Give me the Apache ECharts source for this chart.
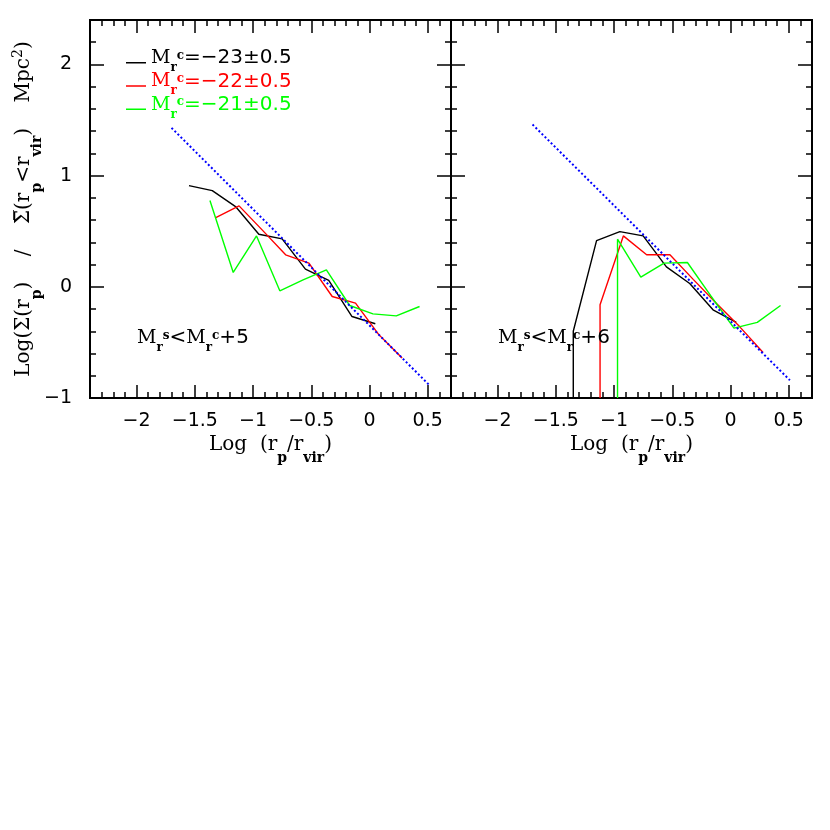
<!DOCTYPE html>
<html>
<head>
<meta charset="utf-8">
<script src="https://cdn.jsdelivr.net/npm/echarts@6/dist/echarts.min.js"></script>
<style>
  html, body { margin: 0; padding: 0; background: #fff; }
  #chart { width: 830px; height: 830px; }
</style>
</head>
<body>
<div id="chart"></div>
<script>
// axis ranges and labelled ticks
const xMin = -2.4, xMax = 0.7;
const yMin = -1, yMax = 2.4;
const xMajor = [-2, -1.5, -1, -0.5, 0, 0.5];
const yMajor = [-1, 0, 1, 2];

// magnitude bins (legend)
const binLabels = ['=−23±0.5', '=−22±0.5', '=−21±0.5'];
const binColors = ['#000000', '#ff0000', '#00ff00'];

// left panel: Mr_s < Mr_c + 5
const xBlackL = [-1.55, -1.35, -1.15, -0.95, -0.75, -0.55, -0.35, -0.15, 0.05];
const yBlackL = [0.91, 0.865, 0.722, 0.473, 0.431, 0.159, 0.057, -0.267, -0.332];
const xRedL = [-1.32, -1.12, -0.92, -0.72, -0.52, -0.32, -0.12, 0.08, 0.28];
const yRedL = [0.623, 0.728, 0.51, 0.288, 0.213, -0.087, -0.147, -0.43, -0.641];
const xGreenL = [-1.37, -1.17, -0.97, -0.77, -0.57, -0.37, -0.17, 0.03, 0.23, 0.43];
const yGreenL = [0.776, 0.129, 0.458, -0.036, 0.063, 0.153, -0.168, -0.243, -0.261, -0.177];

// right panel: Mr_s < Mr_c + 6 (first point of each curve drops off the bottom)
const xBlackR = [-1.35, -1.35, -1.15, -0.95, -0.75, -0.55, -0.35, -0.15, 0.05];
const yBlackR = [-1, -0.40, 0.416, 0.497, 0.458, 0.18, 0.03, -0.207, -0.32];
const xRedR = [-1.12, -1.12, -0.92, -0.72, -0.52, -0.32, -0.12, 0.08, 0.28];
const yRedR = [-1, -0.162, 0.458, 0.288, 0.288, 0.067, -0.15, -0.36, -0.59];
const xGreenR = [-0.97, -0.97, -0.77, -0.57, -0.37, -0.17, 0.03, 0.23, 0.43];
const yGreenR = [-1, 0.428, 0.087, 0.213, 0.219, -0.08, -0.371, -0.32, -0.168];

// dotted reference line
const xModel = [-1.70, 0.51];
const yModelL = [1.43, -0.88];
const yModelR = [1.46, -0.84];

const SERIF = 'DejaVu Serif';
const SANS = 'DejaVu Sans';

const chart = echarts.init(document.getElementById('chart'));

const zip = (xs, ys) => xs.map((x, i) => [x, ys[i]]);
const minus = v => String(v).replace('-', '−');

// M_r^c style labels: sub sits at the bottom of a tall line, sup is nudged up
function richFor(color) {
  const H = 32;
  return {
    m: { fontFamily: SERIF, fontSize: 19, fontWeight: 'normal', lineHeight: H, verticalAlign: 'middle', color },
    s: { fontFamily: SERIF, fontSize: 12, fontWeight: 'bold', lineHeight: H, verticalAlign: 'bottom', color },
    c: { fontFamily: SERIF, fontSize: 12, fontWeight: 'bold', lineHeight: H, verticalAlign: 'middle', padding: [0, 0, 5, 0], color },
    t: { fontFamily: SANS, fontSize: 20, fontWeight: 'normal', lineHeight: H, verticalAlign: 'middle', color }
  };
}

const frame = { onZero: false, lineStyle: { color: '#000', width: 2 } };
const tickLabel = { margin: 14, formatter: minus, color: '#000', fontFamily: SANS, fontSize: 19 };
const nameRich = {
  n: { fontFamily: SERIF, fontSize: 20, lineHeight: 40, verticalAlign: 'middle', color: '#000' },
  s: { fontFamily: SERIF, fontSize: 14, fontWeight: 'bold', lineHeight: 40, verticalAlign: 'bottom', color: '#000' },
  c: { fontFamily: SERIF, fontSize: 14, lineHeight: 40, verticalAlign: 'middle', padding: [0, 0, 12, 0], color: '#000' }
};

function xAxes(grid) {
  const base = { type: 'value', gridIndex: grid, min: xMin, max: xMax, splitLine: { show: false }, axisLine: frame };
  return [
    Object.assign({}, base, {
      position: 'bottom',
      axisTick: { inside: true, length: 13, customValues: xMajor, lineStyle: { width: 1.5 } },
      axisLabel: Object.assign({ customValues: xMajor }, tickLabel),
      name: '{n|Log  (r}{s|p}{n|/r}{s|vir}{n|)}',
      nameLocation: 'middle',
      nameGap: 27,
      nameTextStyle: { rich: nameRich }
    }),
    Object.assign({}, base, {
      position: 'bottom', interval: 0.1,
      axisTick: { inside: true, length: 6, lineStyle: { width: 1.5 } },
      axisLabel: { show: false }
    }),
    Object.assign({}, base, {
      position: 'top',
      axisTick: { inside: true, length: 13, customValues: xMajor, lineStyle: { width: 1.5 } },
      axisLabel: { show: false }
    }),
    Object.assign({}, base, {
      position: 'top', interval: 0.1,
      axisTick: { inside: true, length: 6, lineStyle: { width: 1.5 } },
      axisLabel: { show: false }
    })
  ];
}

function yAxes(grid) {
  const base = { type: 'value', gridIndex: grid, min: yMin, max: yMax, splitLine: { show: false }, axisLine: frame };
  const left = Object.assign({}, base, {
    position: 'left',
    axisTick: { inside: true, length: 14, customValues: yMajor, lineStyle: { width: 1.5 } },
    axisLabel: grid === 0 ? Object.assign({ customValues: yMajor }, tickLabel, { margin: 18 }) : { show: false }
  });
  if (grid === 0) {
    Object.assign(left, {
      name: '{n|Log(Σ(r}{s|p}{n|)    /    Σ\u0305(r}{s|p}{n|<r}{s|vir}{n|)    Mpc}{c|2}{n|)}',
      nameLocation: 'middle',
      nameRotate: 90,
      nameGap: 46,
      nameMoveOverlap: false,
      nameTextStyle: { rich: nameRich }
    });
  }
  return [
    left,
    Object.assign({}, base, {
      position: 'left', interval: 0.2,
      axisTick: { inside: true, length: 6, lineStyle: { width: 1.5 } },
      axisLabel: { show: false }
    }),
    Object.assign({}, base, {
      position: 'right',
      axisTick: { inside: true, length: 14, customValues: yMajor, lineStyle: { width: 1.5 } },
      axisLabel: { show: false }
    }),
    Object.assign({}, base, {
      position: 'right', interval: 0.2,
      axisTick: { inside: true, length: 6, lineStyle: { width: 1.5 } },
      axisLabel: { show: false }
    })
  ];
}

function curve(name, color, xs, ys, panel) {
  return {
    name, type: 'line', color,
    xAxisIndex: panel * 4, yAxisIndex: panel * 4,
    data: zip(xs, ys),
    symbol: 'none', silent: true,
    lineStyle: { color, width: 1.4 }
  };
}

function model(ys, panel) {
  return {
    name: 'model', type: 'line', color: '#0000ff',
    xAxisIndex: panel * 4, yAxisIndex: panel * 4,
    data: zip(xModel, ys),
    symbol: 'none', silent: true, z: 3,
    lineStyle: { color: '#0000ff', width: 2, type: [2, 2.3] }
  };
}

chart.setOption({
  animation: false,
  backgroundColor: '#fff',
  grid: [
    { left: 90, top: 20, width: 361, height: 378 },
    { left: 451, top: 20, width: 361, height: 378 }
  ],
  xAxis: xAxes(0).concat(xAxes(1)),
  yAxis: yAxes(0).concat(yAxes(1)),
  legend: {
    orient: 'vertical',
    left: 126, top: 48, padding: 0,
    itemWidth: 20, itemHeight: 14, itemGap: -2.7, itemTextGap: 3,
    selectedMode: false,
    icon: 'path://M0,0L0.01,0M0,11L20,11L20,12.4L0,12.4ZM0,14L0.01,14',
    itemStyle: { borderWidth: 0 },
    formatter: name => '{m|M}{s|r}{c|c}{t|' + name + '}',
    data: binLabels.map((n, i) => ({ name: n, textStyle: { color: binColors[i], rich: richFor(binColors[i]) } }))
  },
  title: [
    { text: '{m|M}{s|r}{c|s}{t|<}{m|M}{s|r}{c|c}{t|+5}', left: 137, top: 322, padding: 0, textStyle: { fontWeight: 'normal', rich: richFor('#000') } },
    { text: '{m|M}{s|r}{c|s}{t|<}{m|M}{s|r}{c|c}{t|+6}', left: 498, top: 322, padding: 0, textStyle: { fontWeight: 'normal', rich: richFor('#000') } }
  ],
  series: [
    curve(binLabels[0], binColors[0], xBlackL, yBlackL, 0),
    curve(binLabels[1], binColors[1], xRedL, yRedL, 0),
    curve(binLabels[2], binColors[2], xGreenL, yGreenL, 0),
    curve(binLabels[0], binColors[0], xBlackR, yBlackR, 1),
    curve(binLabels[1], binColors[1], xRedR, yRedR, 1),
    curve(binLabels[2], binColors[2], xGreenR, yGreenR, 1),
    model(yModelL, 0),
    model(yModelR, 1)
  ]
});
</script>
</body>
</html>
